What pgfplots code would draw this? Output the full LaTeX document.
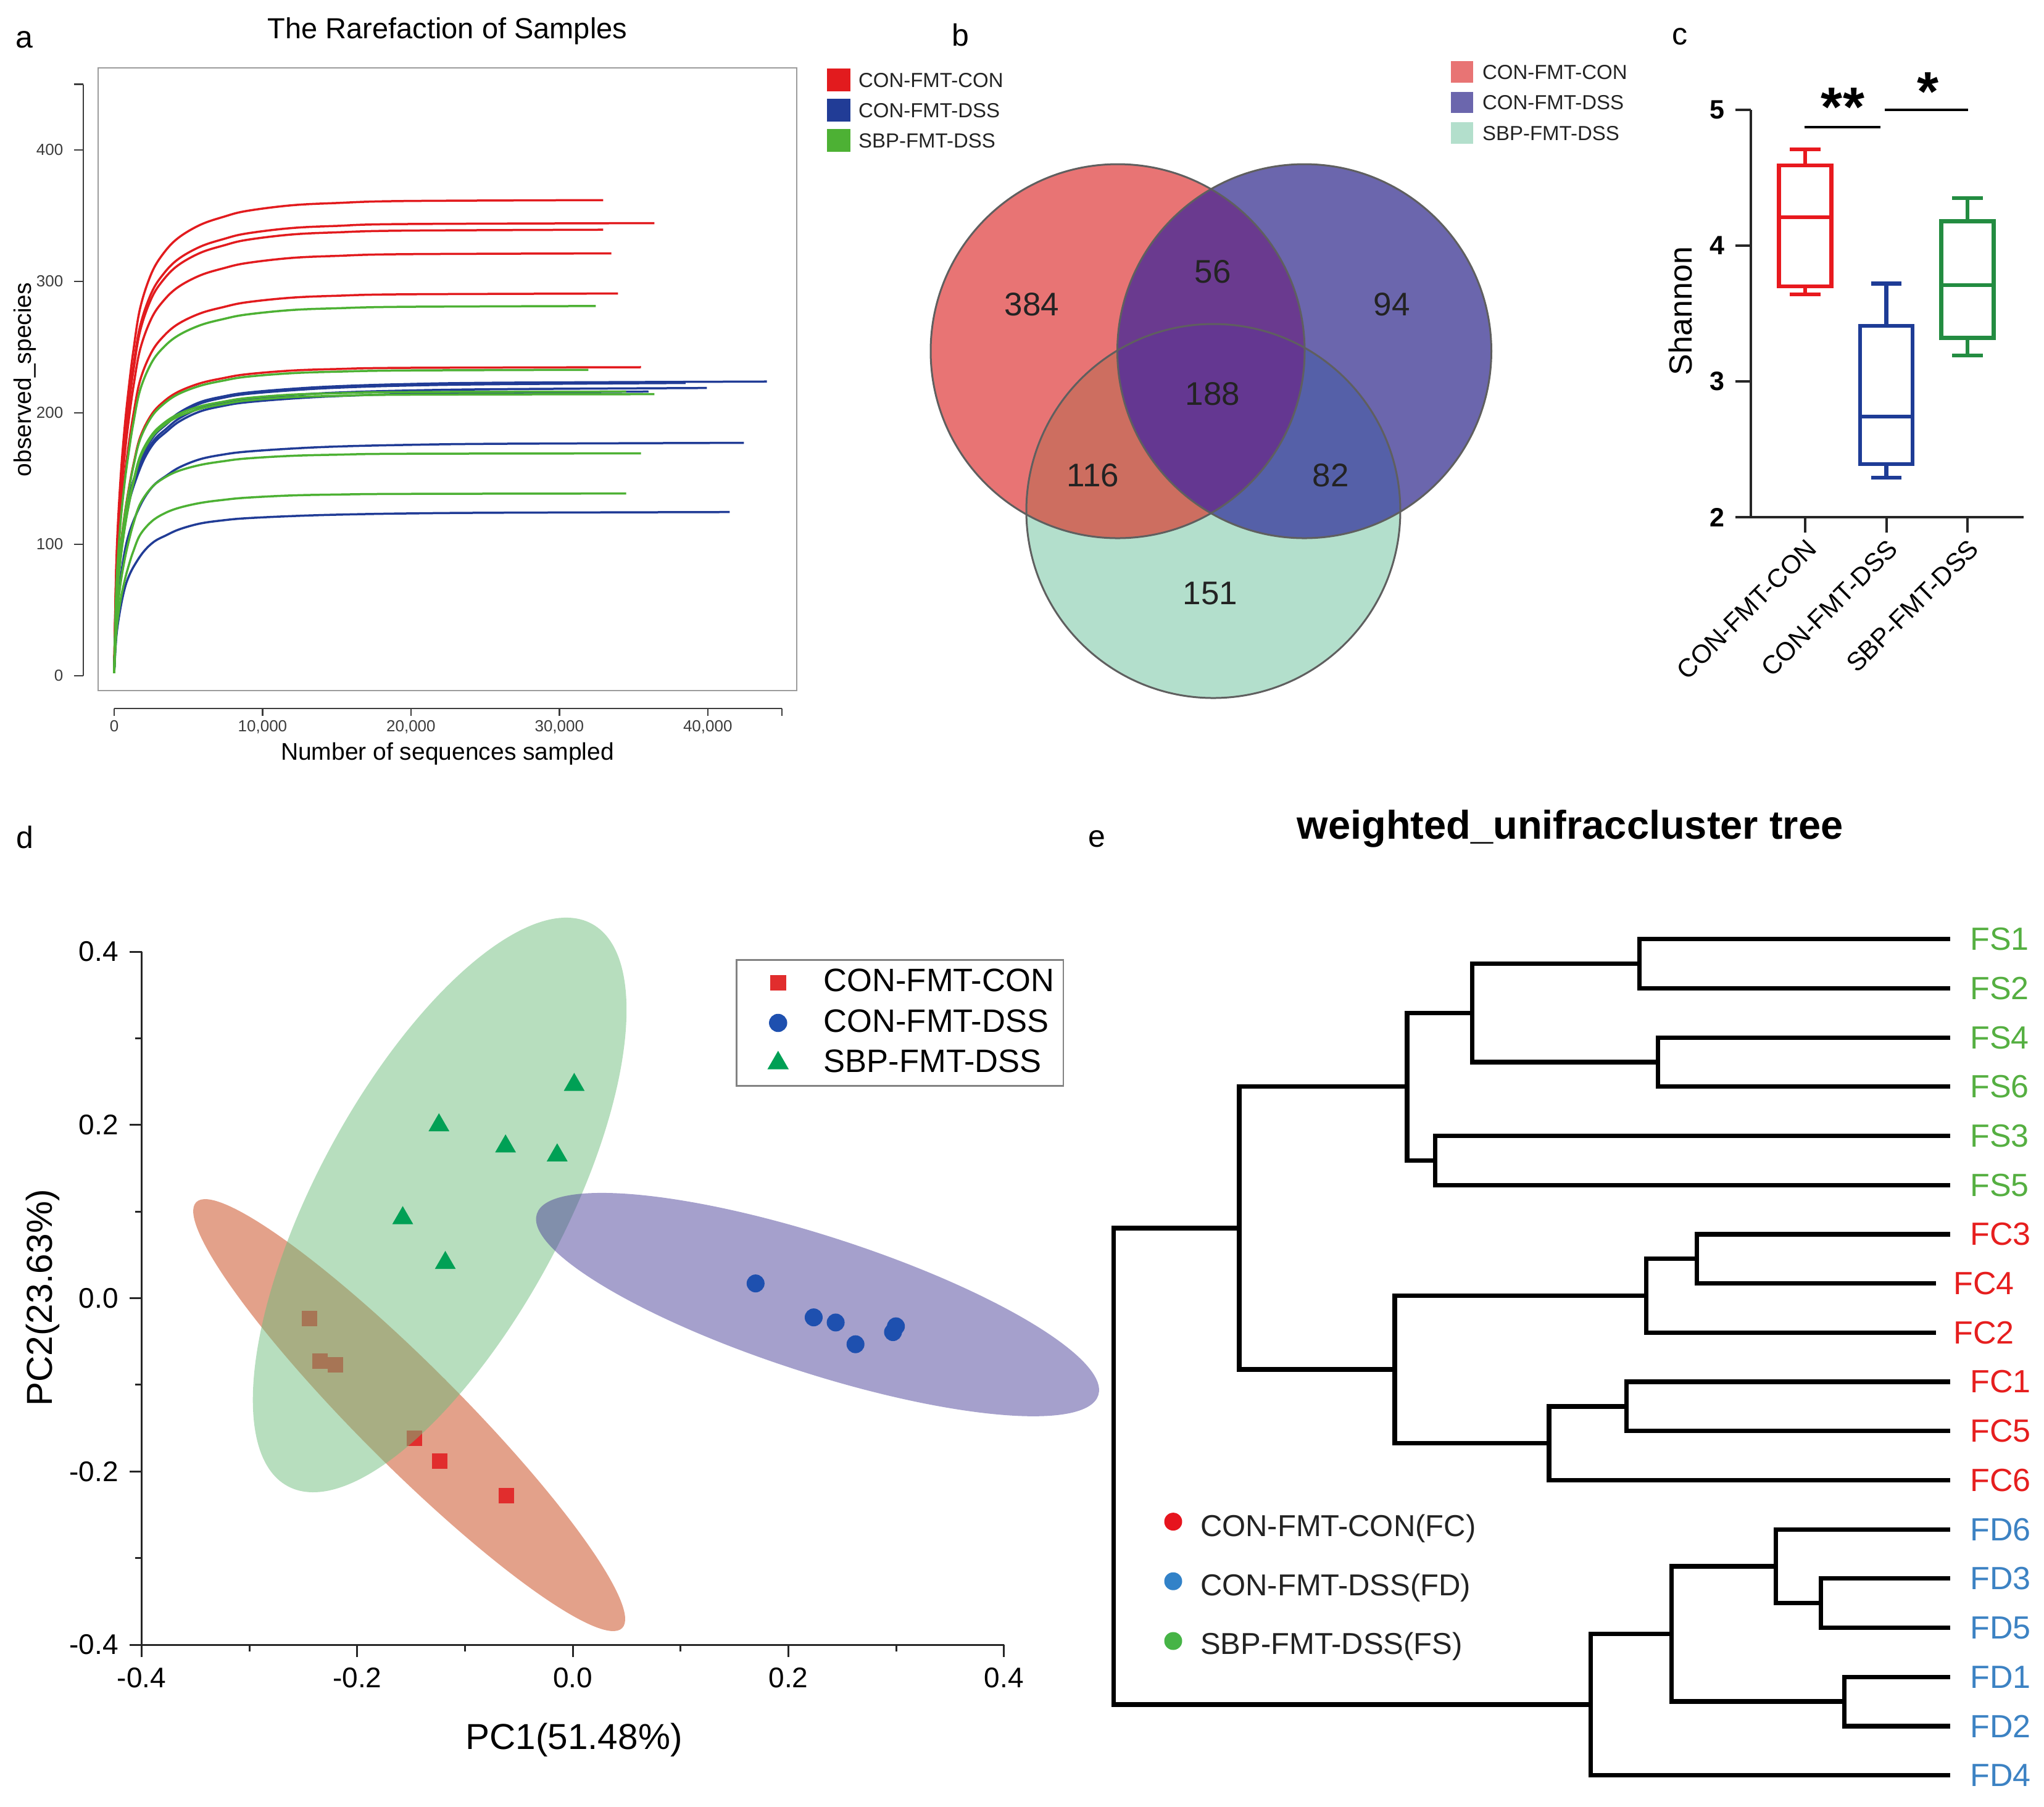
\documentclass[border=0pt]{standalone}
\usepackage{fontspec}
\setmainfont{Liberation Sans}
\usepackage{pgfplots}
\pgfplotsset{compat=1.18}
\usepgfplotslibrary{statistics}

\definecolor{aRed}{RGB}{226,27,30}
\definecolor{aBlue}{RGB}{33,60,150}
\definecolor{aGreen}{RGB}{77,177,52}
\definecolor{frameG}{RGB}{155,155,155}
\definecolor{axG}{RGB}{60,60,60}
\definecolor{vRed}{RGB}{232,116,116}
\definecolor{vBlue}{RGB}{107,102,173}
\definecolor{vGreen}{RGB}{179,223,204}
\definecolor{vRB}{RGB}{106,58,143}
\definecolor{vRG}{RGB}{205,110,96}
\definecolor{vBG}{RGB}{85,96,168}
\definecolor{vRBG}{RGB}{100,55,145}
\definecolor{vLine}{RGB}{95,95,95}
\definecolor{cRed}{RGB}{232,25,30}
\definecolor{cBlue}{RGB}{30,60,150}
\definecolor{cGreen}{RGB}{35,140,65}
\definecolor{eRedE}{RGB}{199,67,21}
\definecolor{eGreenE}{RGB}{111,189,125}
\definecolor{eBlueE}{RGB}{75,65,153}
\definecolor{dRed}{RGB}{225,45,45}
\definecolor{dBlue}{RGB}{30,80,175}
\definecolor{dGreen}{RGB}{0,160,85}
\definecolor{tGreen}{RGB}{85,175,65}
\definecolor{tRed}{RGB}{230,30,30}
\definecolor{tBlue}{RGB}{60,130,195}
\definecolor{lRed}{RGB}{230,20,30}
\definecolor{lBlue}{RGB}{50,130,200}
\definecolor{lGreen}{RGB}{70,180,70}
\definecolor{txt}{RGB}{35,35,35}
\definecolor{legG}{RGB}{130,130,130}

\newcommand\fs[1]{\fontsize{#1pt}{#1pt}\selectfont}
\pgfplotsset{dendro/.style={black, solid, line width=1.45pt, no markers}}

\begin{document}
\begin{tikzpicture}
\useasboundingbox (0pt,0pt) rectangle (662.4pt,-585.6pt);

%================ overlay axis in pixel coordinates =================
\begin{axis}[at={(0pt,0pt)}, anchor=north west, scale only axis,
  width=662.4pt, height=585.6pt, xmin=0, xmax=3312, ymin=0, ymax=2928,
  y dir=reverse, hide axis, clip=false]
\addplot[draw=none] coordinates {(0,0)};
% panel letters
\node[font=\fs{10}] at (axis cs:39,64) {a};
\node[font=\fs{10}] at (axis cs:1556,57) {b};
\node[font=\fs{10}] at (axis cs:2722,59) {c};
\node[font=\fs{10}] at (axis cs:40,1357) {d};
\node[font=\fs{10}] at (axis cs:1777,1359) {e};
% panel a texts
\node[font=\fs{9.4}, anchor=base] at (axis cs:725,62.7) {The Rarefaction of Samples};
\node[font=\fs{7.8}, anchor=base] at (axis cs:725,1231) {Number of sequences sampled};
\node[font=\fs{7.8}, anchor=base, rotate=90] at (axis cs:50,615) {observed\_species};
% panel a legend
\fill[aRed] (axis cs:1340,111) rectangle (axis cs:1378,148);
\fill[aBlue] (axis cs:1340,160) rectangle (axis cs:1378,197);
\fill[aGreen] (axis cs:1340,209) rectangle (axis cs:1378,246);
\node[font=\fs{6.6}, anchor=west, inner sep=0pt, text=txt] at (axis cs:1390,130) {CON-FMT-CON};
\node[font=\fs{6.6}, anchor=west, inner sep=0pt, text=txt] at (axis cs:1390,179) {CON-FMT-DSS};
\node[font=\fs{6.6}, anchor=west, inner sep=0pt, text=txt] at (axis cs:1390,228) {SBP-FMT-DSS};
% panel b Venn
\fill[vGreen] (axis cs:1966,828) circle [radius=60.6pt];
\fill[vRed] (axis cs:1811,569) circle [radius=60.6pt];
\fill[vBlue] (axis cs:2113.5,569) circle [radius=60.6pt];
\begin{scope}
  \clip (axis cs:1811,569) circle [radius=60.6pt];
  \fill[vRG] (axis cs:1966,828) circle [radius=60.6pt];
\end{scope}
\begin{scope}
  \clip (axis cs:2113.5,569) circle [radius=60.6pt];
  \fill[vBG] (axis cs:1966,828) circle [radius=60.6pt];
\end{scope}
\begin{scope}
  \clip (axis cs:1811,569) circle [radius=60.6pt];
  \fill[vRB] (axis cs:2113.5,569) circle [radius=60.6pt];
\end{scope}
\begin{scope}
  \clip (axis cs:1811,569) circle [radius=60.6pt];
  \clip (axis cs:2113.5,569) circle [radius=60.6pt];
  \fill[vRBG] (axis cs:1966,828) circle [radius=60.6pt];
\end{scope}
\draw[vLine, line width=0.6pt] (axis cs:1811,569) circle [radius=60.6pt];
\draw[vLine, line width=0.6pt] (axis cs:2113.5,569) circle [radius=60.6pt];
\draw[vLine, line width=0.6pt] (axis cs:1966,828) circle [radius=60.6pt];
\node[font=\fs{10.6}, text=txt] at (axis cs:1672,493) {384};
\node[font=\fs{10.6}, text=txt] at (axis cs:1965,440) {56};
\node[font=\fs{10.6}, text=txt] at (axis cs:2255,493) {94};
\node[font=\fs{10.6}, text=txt] at (axis cs:1965,638) {188};
\node[font=\fs{10.6}, text=txt] at (axis cs:1771,770) {116};
\node[font=\fs{10.6}, text=txt] at (axis cs:2156,770) {82};
\node[font=\fs{10.6}, text=txt] at (axis cs:1961,961) {151};
% panel b legend
\fill[vRed] (axis cs:2351,99) rectangle (axis cs:2387,134);
\fill[vBlue] (axis cs:2351,149) rectangle (axis cs:2387,183);
\fill[vGreen] (axis cs:2351,198) rectangle (axis cs:2387,233);
\node[font=\fs{6.6}, anchor=west, inner sep=0pt, text=txt] at (axis cs:2401,117) {CON-FMT-CON};
\node[font=\fs{6.6}, anchor=west, inner sep=0pt, text=txt] at (axis cs:2401,166) {CON-FMT-DSS};
\node[font=\fs{6.6}, anchor=west, inner sep=0pt, text=txt] at (axis cs:2401,216) {SBP-FMT-DSS};
% panel c label
\node[font=\fs{10.4}, anchor=base, rotate=90] at (axis cs:2741,504) {Shannon};
% panel d labels
\node[font=\fs{11.7}, anchor=base] at (axis cs:930,2834) {PC1(51.48\%)};
\node[font=\fs{11.7}, anchor=base, rotate=90] at (axis cs:85,2103) {PC2(23.63\%)};
% panel e title
\node[font=\bfseries\fs{13}] at (axis cs:2544,1343) {weighted\_unifraccluster tree};
% panel e dendrogram
\addplot[dendro] coordinates {(3159.6,1521.7) (2656.5,1521.7) (2656.5,1601.4) (3159.6,1601.4)};
\addplot[dendro] coordinates {(3159.6,1681.1) (2686.4,1681.1) (2686.4,1760.8) (3159.6,1760.8)};
\addplot[dendro] coordinates {(2656.5,1561.55) (2385.6,1561.55) (2385.6,1720.95) (2686.4,1720.95)};
\addplot[dendro] coordinates {(3159.6,1840.5) (2325.8,1840.5) (2325.8,1920.2) (3159.6,1920.2)};
\addplot[dendro] coordinates {(2385.6,1641.25) (2280,1641.25) (2280,1880.35) (2325.8,1880.35)};
\addplot[dendro] coordinates {(3159.6,1999.9) (2749.2,1999.9) (2749.2,2079.6) (3136.7,2079.6)};
\addplot[dendro] coordinates {(2749.2,2039.75) (2667.5,2039.75) (2667.5,2159.3) (3136.7,2159.3)};
\addplot[dendro] coordinates {(3159.6,2239.0) (2635.6,2239.0) (2635.6,2318.7) (3159.6,2318.7)};
\addplot[dendro] coordinates {(2635.6,2278.85) (2510,2278.85) (2510,2398.4) (3159.6,2398.4)};
\addplot[dendro] coordinates {(2667.5,2099.5) (2260,2099.5) (2260,2338.6) (2510,2338.6)};
\addplot[dendro] coordinates {(2280,1760.8) (2008,1760.8) (2008,2219.05) (2260,2219.05)};
\addplot[dendro] coordinates {(3159.6,2557.8) (2950.4,2557.8) (2950.4,2637.5) (3159.6,2637.5)};
\addplot[dendro] coordinates {(3159.6,2478.1) (2877.7,2478.1) (2877.7,2597.65) (2950.4,2597.65)};
\addplot[dendro] coordinates {(3159.6,2717.2) (2988.2,2717.2) (2988.2,2796.9) (3159.6,2796.9)};
\addplot[dendro] coordinates {(2877.7,2537.9) (2708.3,2537.9) (2708.3,2757.05) (2988.2,2757.05)};
\addplot[dendro] coordinates {(2708.3,2647.5) (2577.8,2647.5) (2577.8,2876.6) (3159.6,2876.6)};
\addplot[dendro] coordinates {(2008,1989.9) (1804.8,1989.9) (1804.8,2762.05) (2577.8,2762.05)};
% leaf labels
\node[font=\fs{10.4}, anchor=west, inner sep=0pt, text=tGreen] at (axis cs:3191.5,1521.7) {FS1};
\node[font=\fs{10.4}, anchor=west, inner sep=0pt, text=tGreen] at (axis cs:3191.5,1601.4) {FS2};
\node[font=\fs{10.4}, anchor=west, inner sep=0pt, text=tGreen] at (axis cs:3191.5,1681.1) {FS4};
\node[font=\fs{10.4}, anchor=west, inner sep=0pt, text=tGreen] at (axis cs:3191.5,1760.8) {FS6};
\node[font=\fs{10.4}, anchor=west, inner sep=0pt, text=tGreen] at (axis cs:3191.5,1840.5) {FS3};
\node[font=\fs{10.4}, anchor=west, inner sep=0pt, text=tGreen] at (axis cs:3191.5,1920.2) {FS5};
\node[font=\fs{10.4}, anchor=west, inner sep=0pt, text=tRed] at (axis cs:3191.5,1999.9) {FC3};
\node[font=\fs{10.4}, anchor=west, inner sep=0pt, text=tRed] at (axis cs:3164.6,2079.6) {FC4};
\node[font=\fs{10.4}, anchor=west, inner sep=0pt, text=tRed] at (axis cs:3164.6,2159.3) {FC2};
\node[font=\fs{10.4}, anchor=west, inner sep=0pt, text=tRed] at (axis cs:3191.5,2239.0) {FC1};
\node[font=\fs{10.4}, anchor=west, inner sep=0pt, text=tRed] at (axis cs:3191.5,2318.7) {FC5};
\node[font=\fs{10.4}, anchor=west, inner sep=0pt, text=tRed] at (axis cs:3191.5,2398.4) {FC6};
\node[font=\fs{10.4}, anchor=west, inner sep=0pt, text=tBlue] at (axis cs:3191.5,2478.1) {FD6};
\node[font=\fs{10.4}, anchor=west, inner sep=0pt, text=tBlue] at (axis cs:3191.5,2557.8) {FD3};
\node[font=\fs{10.4}, anchor=west, inner sep=0pt, text=tBlue] at (axis cs:3191.5,2637.5) {FD5};
\node[font=\fs{10.4}, anchor=west, inner sep=0pt, text=tBlue] at (axis cs:3191.5,2717.2) {FD1};
\node[font=\fs{10.4}, anchor=west, inner sep=0pt, text=tBlue] at (axis cs:3191.5,2796.9) {FD2};
\node[font=\fs{10.4}, anchor=west, inner sep=0pt, text=tBlue] at (axis cs:3191.5,2876.6) {FD4};
% panel e legend
\fill[lRed] (axis cs:1901,2465.6) circle [radius=2.9pt];
\fill[lBlue] (axis cs:1901,2562.2) circle [radius=2.9pt];
\fill[lGreen] (axis cs:1901,2659) circle [radius=2.9pt];
\node[font=\fs{9.8}, anchor=west, inner sep=0pt, text=txt] at (axis cs:1944,2477) {CON-FMT-CON(FC)};
\node[font=\fs{9.8}, anchor=west, inner sep=0pt, text=txt] at (axis cs:1944,2573) {CON-FMT-DSS(FD)};
\node[font=\fs{9.8}, anchor=west, inner sep=0pt, text=txt] at (axis cs:1944,2668) {SBP-FMT-DSS(FS)};
\end{axis}

%================ panel a: frame with curves =================
\begin{axis}[at={(31.8pt,-223.8pt)}, anchor=south west, scale only axis,
  width=226.4pt, height=201.8pt, xmin=-1081, xmax=45990, ymin=-11.3, ymax=462,
  xtick=\empty, ytick=\empty, axis line style={draw=frameG, line width=0.55pt},
  every axis plot/.append style={line width=0.7pt, smooth, tension=0.6}]
% red
\addplot[aRed] coordinates {(0,2) (150,86.8) (400,144.6) (700,188.0) (1000,220.5) (1300,247.6) (1750,279.4) (2500,305.5) (3300,320.7) (4300,332.6) (5800,342.7) (7400,348.9) (8900,353.2) (11900,357.5) (15000,359.3) (19500,360.8) (32950,361.5)};
\addplot[aRed] coordinates {(0,2) (150,82.6) (400,137.6) (700,178.9) (1000,209.8) (1300,235.6) (1750,265.9) (2500,290.7) (3300,305.1) (4300,316.5) (5800,326.1) (7400,332.0) (8900,336.1) (11900,340.2) (15000,341.9) (19500,343.3) (36400,344)};
\addplot[aRed] coordinates {(0,2) (150,81.4) (400,135.6) (700,176.3) (1000,206.8) (1300,232.2) (1750,262.1) (2500,286.5) (3300,300.7) (4300,311.9) (5800,321.4) (7400,327.1) (8900,331.2) (11900,335.3) (15000,337.0) (19500,338.3) (32950,339)};
\addplot[aRed] coordinates {(0,2) (150,77.0) (400,128.4) (700,166.9) (1000,195.8) (1300,219.9) (1750,248.1) (2500,271.3) (3300,284.7) (4300,295.3) (5800,304.3) (7400,309.8) (8900,313.6) (11900,317.5) (15000,319.1) (19500,320.4) (33500,321)};
\addplot[aRed] coordinates {(0,2) (150,69.7) (400,116.2) (700,151.1) (1000,177.2) (1300,199.0) (1750,224.6) (2500,245.5) (3300,257.7) (4300,267.3) (5800,275.4) (7400,280.3) (8900,283.8) (11900,287.3) (15000,288.8) (19500,289.9) (33950,290.5)};
\addplot[aRed] coordinates {(0,2) (150,56.3) (400,93.8) (700,121.9) (1000,143.1) (1300,160.6) (1750,181.3) (2500,198.2) (3300,208.0) (4300,215.7) (5800,222.3) (7400,226.3) (8900,229.1) (11900,231.9) (15000,233.1) (19500,234.0) (35500,234.5)};
% blue
\addplot[aBlue] coordinates {(0,2) (150,53.7) (400,89.4) (700,118.5) (1000,136.4) (1400,152.1) (2000,169.9) (2700,183.4) (3500,191.9) (4400,200.1) (5800,208.0) (7400,212.4) (8900,215.1) (11900,218.0) (15000,220.0) (19500,221.6) (26000,222.7) (43980,223.6)};
\addplot[aBlue] coordinates {(0,2) (150,53.4) (400,89.0) (700,117.9) (1000,135.7) (1400,151.3) (2000,169.1) (2700,182.5) (3500,190.9) (4400,199.1) (5800,206.9) (7400,211.4) (8900,214.1) (11900,216.9) (15000,218.9) (19500,220.5) (26000,221.6) (38500,222.5)};
\addplot[aBlue] coordinates {(0,2) (150,52.5) (400,87.5) (700,115.9) (1000,133.4) (1400,148.7) (2000,166.2) (2700,179.3) (3500,187.6) (4400,195.7) (5800,203.4) (7400,207.8) (8900,210.4) (11900,213.2) (15000,215.2) (19500,216.7) (26000,217.8) (39930,218.7)};
\addplot[aBlue] coordinates {(0,2) (150,51.8) (400,86.4) (700,114.5) (1000,131.8) (1400,146.9) (2000,164.2) (2700,177.1) (3500,185.3) (4400,193.3) (5800,200.9) (7400,205.2) (8900,207.8) (11900,210.6) (15000,212.5) (19500,214.1) (26000,215.1) (36000,216)};
\addplot[aBlue] coordinates {(0,2) (150,42.5) (400,70.8) (700,93.8) (1000,108.0) (1400,120.4) (2000,134.5) (2700,145.1) (3500,151.9) (4400,158.4) (5800,164.6) (7400,168.2) (8900,170.3) (11900,172.6) (15000,174.2) (19500,175.4) (26000,176.3) (42430,177)};
\addplot[aBlue] coordinates {(0,2) (150,29.9) (400,49.8) (700,65.9) (1000,75.9) (1400,84.6) (2000,94.5) (2700,102.0) (3500,106.7) (4400,111.3) (5800,115.7) (7400,118.2) (8900,119.7) (11900,121.3) (15000,122.4) (19500,123.3) (26000,123.9) (41470,124.4)};
% green
\addplot[aGreen] coordinates {(0,2) (150,67.4) (400,112.4) (700,146.1) (1000,171.4) (1300,192.5) (1750,217.2) (2500,237.5) (3300,249.3) (4300,258.5) (5800,266.4) (7400,271.2) (8900,274.5) (11900,277.9) (15000,279.3) (19500,280.4) (32450,281)};
\addplot[aGreen] coordinates {(0,2) (150,55.8) (400,93.0) (700,120.9) (1000,141.8) (1300,159.3) (1750,179.7) (2500,196.5) (3300,206.2) (4300,213.9) (5800,220.4) (7400,224.4) (8900,227.2) (11900,229.9) (15000,231.1) (19500,232.0) (31950,232.5)};
\addplot[aGreen] coordinates {(0,2) (150,51.4) (400,85.6) (700,111.3) (1000,130.5) (1300,146.6) (1750,165.4) (2500,180.8) (3300,189.8) (4300,196.9) (5800,202.9) (7400,206.5) (8900,209.1) (11900,211.7) (15000,212.7) (19500,213.6) (36400,214)};
\addplot[aGreen] coordinates {(0,2) (150,51.8) (400,86.4) (700,112.3) (1000,131.8) (1300,148.0) (1750,167.0) (2500,182.5) (3300,191.6) (4300,198.7) (5800,204.8) (7400,208.4) (8900,211.0) (11900,213.6) (15000,214.7) (19500,215.6) (34500,216)};
\addplot[aGreen] coordinates {(0,2) (150,40.6) (400,67.6) (700,87.9) (1000,103.1) (1300,115.8) (1750,130.6) (2500,142.8) (3300,149.9) (4300,155.5) (5800,160.2) (7400,163.1) (8900,165.1) (11900,167.1) (15000,168.0) (19500,168.7) (35500,169)};
\addplot[aGreen] coordinates {(0,2) (150,33.2) (400,55.4) (700,72.0) (1000,84.5) (1300,94.9) (1750,107.1) (2500,117.0) (3300,122.9) (4300,127.4) (5800,131.3) (7400,133.7) (8900,135.3) (11900,137.0) (15000,137.7) (19500,138.2) (34500,138.5)};
\end{axis}

%================ panel a: separate y axis =================
\begin{axis}[at={(27pt,-219pt)}, anchor=south west, scale only axis,
  width=10pt, height=191.7pt, xmin=0, xmax=1, ymin=0, ymax=450,
  axis y line=left, axis x line=none, xtick=\empty,
  y axis line style={-, draw=axG, line width=0.5pt},
  ytick={0,100,200,300,400,450}, yticklabels={0,100,200,300,400,{}},
  tick align=outside, major tick length=3pt,
  ytick style={draw=axG, line width=0.5pt},
  yticklabel style={font=\fs{5.2}, text=axG}]
\addplot[draw=none] coordinates {(0.5,100)};
\end{axis}

%================ panel a: separate x axis =================
\begin{axis}[at={(37pt,-229.6pt)}, anchor=south west, scale only axis,
  width=216.4pt, height=10pt, xmin=0, xmax=45000, ymin=0, ymax=1,
  axis x line=bottom, axis y line=none, ytick=\empty, scaled x ticks=false,
  x axis line style={-, draw=axG, line width=0.5pt},
  xtick={0,10000,20000,30000,40000,45000}, xticklabels={0,{10,000},{20,000},{30,000},{40,000},{}},
  tick align=outside, major tick length=2.4pt,
  xtick style={draw=axG, line width=0.5pt},
  xticklabel style={font=\fs{5.2}, text=axG, yshift=2pt}]
\addplot[draw=none] coordinates {(100,0.5)};
\end{axis}

%================ panel c: Shannon boxplots =================
\begin{axis}[at={(567.4pt,-167.6pt)}, anchor=south west, scale only axis,
  width=88.4pt, height=132pt, xmin=0.331, xmax=3.692, ymin=2, ymax=5,
  axis x line=bottom, axis y line=left,
  axis line style={-, line width=0.7pt, draw=black!85},
  xtick={1,2,3}, xticklabels={CON-FMT-CON,CON-FMT-DSS,SBP-FMT-DSS},
  ytick={2,3,4,5}, yticklabels={2,3,4,5},
  tick align=outside, major tick length=5pt,
  tick style={line width=0.8pt, draw=black!85},
  xticklabel style={font=\fs{8.4}, rotate=45, anchor=north east, inner sep=1pt},
  yticklabel style={font=\bfseries\fs{8.6}},
  clip=false, boxplot/draw direction=y]
\addplot[cRed, line width=1.3pt, boxplot prepared={median=4.21, upper quartile=4.59, lower quartile=3.70, upper whisker=4.71, lower whisker=3.64, draw position=1, box extend=0.646, whisker extend=0.373}] coordinates {};
\addplot[cBlue, line width=1.3pt, boxplot prepared={median=2.74, upper quartile=3.41, lower quartile=2.39, upper whisker=3.72, lower whisker=2.29, draw position=2, box extend=0.646, whisker extend=0.373}] coordinates {};
\addplot[cGreen, line width=1.3pt, boxplot prepared={median=3.71, upper quartile=4.18, lower quartile=3.32, upper whisker=4.35, lower whisker=3.19, draw position=3, box extend=0.646, whisker extend=0.373}] coordinates {};
\draw[line width=0.65pt, black] (axis cs:0.99,4.873) -- (axis cs:1.928,4.873);
\draw[line width=0.65pt, black] (axis cs:1.981,5.0) -- (axis cs:3.008,5.0);
\node[anchor=base, font=\bfseries\fs{18}, inner sep=0pt] at (axis cs:1.464,4.88) {**};
\node[anchor=base, font=\bfseries\fs{18}, inner sep=0pt] at (axis cs:2.513,4.995) {*};
\end{axis}

%================ panel d: PCoA =================
\begin{axis}[at={(45.92pt,-533pt)}, anchor=south west, scale only axis,
  width=279.42pt, height=224.6pt, xmin=-0.4, xmax=0.4, ymin=-0.4, ymax=0.4,
  axis x line=bottom, axis y line=left,
  axis line style={-, line width=0.6pt, draw=black!85},
  xtick={-0.4,-0.2,0,0.2,0.4}, xticklabels={-0.4,-0.2,0.0,0.2,0.4},
  ytick={-0.4,-0.2,0,0.2,0.4}, yticklabels={-0.4,-0.2,0.0,0.2,0.4},
  minor xtick={-0.3,-0.1,0.1,0.3}, minor ytick={-0.3,-0.1,0.1,0.3},
  tick align=outside, major tick length=4pt, minor tick length=2.2pt,
  tick style={line width=0.6pt, draw=black!85},
  ticklabel style={font=\fs{9.2}},
  clip=false, clip marker paths=true,
  legend image code/.code={\path[draw=none,fill=none] (0pt,-3.2pt) rectangle (25.3pt,3.2pt); \draw[mark repeat=2,mark phase=2,#1] plot coordinates {(0pt,0pt) (10.5pt,0pt) (21pt,0pt)};},
  legend style={at={(0.6889,0.9893)}, anchor=north west, draw=legG, line width=0.5pt,
    inner xsep=3pt, inner ysep=3pt, font=\fs{10.5}, row sep=4.2pt, nodes={inner sep=0pt}},
  legend cell align=left]
\addlegendimage{only marks, mark=square*, mark size=2.3pt, dRed, mark options={draw=none, fill=dRed}}
\addlegendentry{CON-FMT-CON}
\addlegendimage{only marks, mark=*, mark size=2.7pt, dBlue, mark options={draw=none, fill=dBlue}}
\addlegendentry{CON-FMT-DSS}
\addlegendimage{only marks, mark=triangle*, mark size=3.5pt, dGreen, mark options={draw=none, fill=dGreen}}
\addlegendentry{SBP-FMT-DSS}
\fill[eRedE, fill opacity=0.5, rotate around={-45:(axis cs:-0.1518,-0.135)}] (axis cs:-0.1518,-0.135) ellipse [x radius=97.6pt, y radius=16.4pt];
\addplot[only marks, mark=square*, mark size=2.3pt, dRed, mark options={draw=none, fill=dRed}, forget plot] coordinates {(-0.2445,-0.0237) (-0.2347,-0.0725) (-0.2202,-0.0769) (-0.1472,-0.1619) (-0.1236,-0.1878) (-0.0618,-0.2277)};
\fill[eGreenE, fill opacity=0.5, rotate around={61.6:(axis cs:-0.1235,0.1076)}] (axis cs:-0.1235,0.1076) ellipse [x radius=103.6pt, y radius=40pt];
\addplot[only marks, mark=triangle*, mark size=3.5pt, dGreen, mark options={draw=none, fill=dGreen}, forget plot] coordinates {(-0.1242,0.1996) (-0.0624,0.1752) (-0.0145,0.1649) (0.0013,0.2462) (-0.1578,0.0924) (-0.1183,0.0407)};
\fill[eBlueE, fill opacity=0.5, rotate around={-17.9:(axis cs:0.2271,-0.0074)}] (axis cs:0.2271,-0.0074) ellipse [x radius=95.6pt, y radius=22.2pt];
\addplot[only marks, mark=*, mark size=2.7pt, dBlue, mark options={draw=none, fill=dBlue}, forget plot] coordinates {(0.1696,0.0170) (0.2235,-0.0222) (0.2439,-0.0281) (0.2623,-0.0532) (0.2971,-0.0392) (0.2998,-0.0325)};
\end{axis}
\end{tikzpicture}
\end{document}
